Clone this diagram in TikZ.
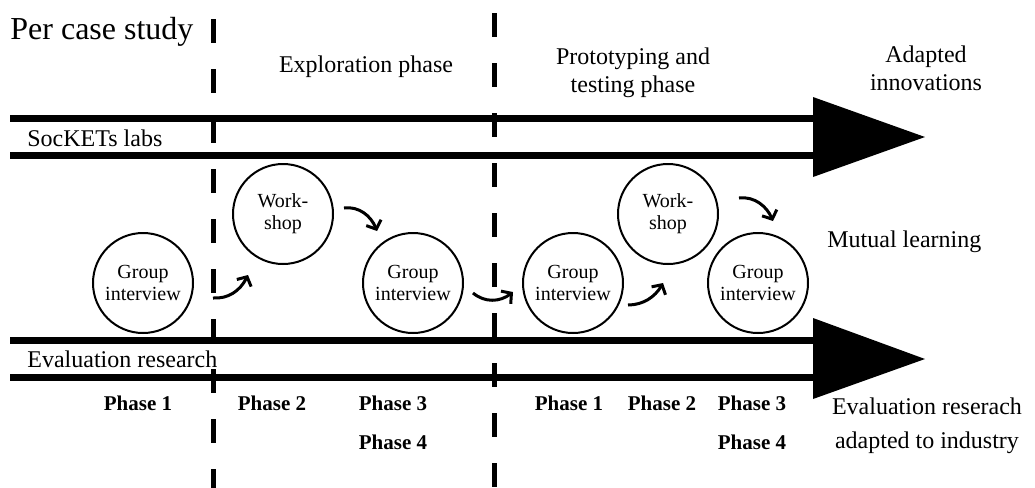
\documentclass[tikz,border=0pt]{standalone}
\usepackage{fontspec}
\setmainfont{Liberation Serif}
\usetikzlibrary{arrows.meta}
\tikzset{
  band/.style={line width=3.5pt},
  headtri/.style={fill=black, draw=none},
  vdash/.style={line width=2.5pt, dash pattern=on 12pt off 13pt},
  circ/.style={circle, draw, line width=1pt, minimum size=50pt, inner sep=0pt, align=center, font=\fontsize{10}{11}\selectfont},
  flow/.style={line width=1.5pt, -{Straight Barb[length=3.5pt,width=8pt]}},
  lbl/.style={inner sep=0pt, font=\fontsize{12}{14}\selectfont},
  phz/.style={inner sep=0pt, anchor=base, font=\fontsize{10.5}{12}\selectfont\bfseries},
}
\begin{document}
\begin{tikzpicture}[x=0.5pt,y=-0.5pt]
\useasboundingbox (0,0) rectangle (1035,488);
% bands
\coordinate (t1a) at (10,118); \coordinate (t1b) at (813,118);
\coordinate (t2a) at (10,155); \coordinate (t2b) at (813,155);
\coordinate (b1a) at (10,340); \coordinate (b1b) at (813,340);
\coordinate (b2a) at (10,377); \coordinate (b2b) at (813,377);
\draw[band] (t1a) -- (t1b);
\draw[band] (t2a) -- (t2b);
\draw[band] (b1a) -- (b1b);
\draw[band] (b2a) -- (b2b);
\fill[headtri] (813,97) -- (925,137) -- (813,177) -- cycle;
\fill[headtri] (813,318) -- (925,359) -- (813,399) -- cycle;
% dashed separators
\coordinate (d1a) at (213,19); \coordinate (d1b) at (213,490);
\coordinate (d2a) at (494,13); \coordinate (d2b) at (494,490);
\draw[vdash] (d1a) -- (d1b);
\draw[vdash] (d2a) -- (d2b);
% titles
\node[inner sep=0pt, anchor=base west, font=\fontsize{16}{18}\selectfont] (pcs) at (10,39) {Per case study};
\node[lbl, anchor=base] (expl) at (366,72) {Exploration phase};
\node[lbl, align=center] (proto) at (633,73) {Prototyping and\\testing phase};
\node[lbl, align=center] (adapt) at (926,68) {Adapted\\innovations};
\node[lbl, anchor=base west] (sock) at (27,146) {SocKETs labs};
\node[lbl, anchor=base west] (evr) at (27,367) {Evaluation research};
\node[lbl, anchor=base west] (mut) at (827,247) {Mutual learning};
\node[lbl, align=center, font=\fontsize{12}{17}\selectfont] (evind) at (927,426) {Evaluation reserach\\adapted to industry};
% circles
\node[circ] (gi1) at (143,283) {Group\\interview};
\node[circ] (ws1) at (283,214) {Work-\\shop};
\node[circ] (gi2) at (413,283) {Group\\interview};
\node[circ] (gi3) at (573,283) {Group\\interview};
\node[circ] (ws2) at (668,214) {Work-\\shop};
\node[circ] (gi4) at (758,283) {Group\\interview};
% curved arrows
\coordinate (a1s) at (213,298); \coordinate (a1e) at (248,275);
\coordinate (a2s) at (344,208); \coordinate (a2e) at (377,231);
\coordinate (a3s) at (473,293); \coordinate (a3e) at (513,292);
\coordinate (a4s) at (628,305); \coordinate (a4e) at (663,283);
\coordinate (a5s) at (739,198); \coordinate (a5e) at (773,221);
\draw[flow] (a1s) .. controls (228,299) and (240,291) .. (a1e);
\draw[flow] (a2s) .. controls (359,206) and (371,216) .. (a2e);
\draw[flow] (a3s) .. controls (485,303) and (500,302) .. (a3e);
\draw[flow] (a4s) .. controls (643,305) and (655,297) .. (a4e);
\draw[flow] (a5s) .. controls (755,196) and (767,207) .. (a5e);
% phase labels
\node[phz] (p1l) at (138,410) {Phase 1};
\node[phz] (p2l) at (272,410) {Phase 2};
\node[phz] (p3l) at (393,410) {Phase 3};
\node[phz] (p4l) at (393,449) {Phase 4};
\node[phz] (p1r) at (569,410) {Phase 1};
\node[phz] (p2r) at (662,410) {Phase 2};
\node[phz] (p3r) at (752,410) {Phase 3};
\node[phz] (p4r) at (752,449) {Phase 4};
\end{tikzpicture}
\end{document}
